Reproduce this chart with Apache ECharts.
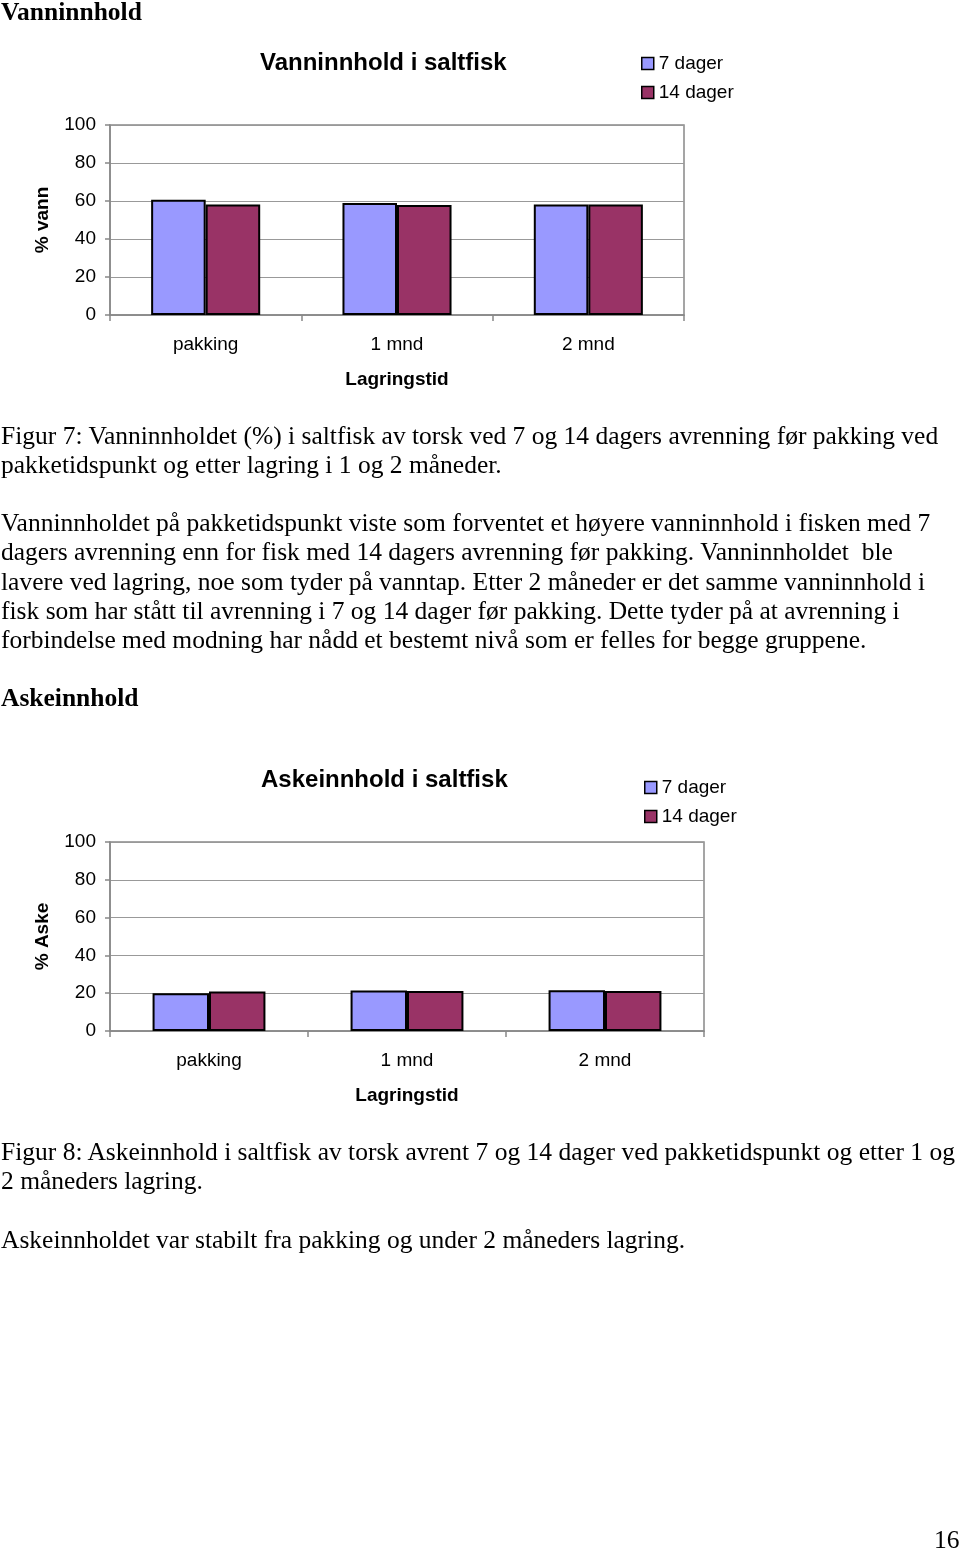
<!DOCTYPE html>
<html><head><meta charset="utf-8">
<script src="https://cdn.jsdelivr.net/npm/echarts@6/dist/echarts.min.js"></script>
<style>
html,body{margin:0;padding:0;background:#fff;}
#page{position:relative;width:960px;height:1550px;overflow:hidden;}
#chart{position:absolute;left:0;top:0;width:960px;height:1550px;}
.t{position:absolute;left:1px;font-family:"Liberation Serif","Times New Roman",serif;font-size:25.5px;line-height:29.3px;color:#000;white-space:nowrap;}
.h{font-weight:bold;font-size:25.5px;}
</style></head>
<body>
<div id="page">
<div id="chart"></div>
<div class="t h" style="top:-3px">Vanninnhold</div>
<div class="t" style="top:421px">Figur 7: Vanninnholdet (%) i saltfisk av torsk ved 7 og 14 dagers avrenning før pakking ved<br>pakketidspunkt og etter lagring i 1 og 2 måneder.</div>
<div class="t" style="top:508px">Vanninnholdet på pakketidspunkt viste som forventet et høyere vanninnhold i fisken med 7<br>dagers avrenning enn for fisk med 14 dagers avrenning før pakking. Vanninnholdet &nbsp;ble<br>lavere ved lagring, noe som tyder på vanntap. Etter 2 måneder er det samme vanninnhold i<br>fisk som har stått til avrenning i 7 og 14 dager før pakking. Dette tyder på at avrenning i<br>forbindelse med modning har nådd et bestemt nivå som er felles for begge gruppene.</div>
<div class="t h" style="top:683px">Askeinnhold</div>
<div class="t" style="top:1137px">Figur 8: Askeinnhold i saltfisk av torsk avrent 7 og 14 dager ved pakketidspunkt og etter 1 og<br>2 måneders lagring.</div>
<div class="t" style="top:1225px">Askeinnholdet var stabilt fra pakking og under 2 måneders lagring.</div>
<div class="t" style="top:1525px;left:934px">16</div>
</div>
<script>
var categories = ['pakking', '1 mnd', '2 mnd'];
var seriesNames = ['7 dager', '14 dager'];
var vann7 = [60.7, 58.9, 58.2];
var vann14 = [58.1, 57.9, 58.2];
var aske7 = [20.0, 21.4, 21.6];
var aske14 = [20.9, 21.1, 21.2];
var yTicks = [0, 20, 40, 60, 80, 100];

var FONT = '"Liberation Sans", Arial, sans-serif';
var colors = ['#9999FF', '#993366'];
var chart = echarts.init(document.getElementById('chart'), null, {renderer: 'canvas'});

function yAxis(gi, name) {
  return {
    gridIndex: gi, type: 'value', min: yTicks[0], max: yTicks[yTicks.length - 1], interval: 20,
    name: name, nameLocation: 'middle', nameGap: 58, nameRotate: 90,
    nameTextStyle: {fontFamily: FONT, fontSize: 19, fontWeight: 'bold', color: '#000'},
    axisLine: {show: true, lineStyle: {color: '#888', width: 1.5}},
    axisTick: {show: true, inside: false, length: 5, lineStyle: {color: '#888', width: 1.5}},
    axisLabel: {fontFamily: FONT, fontSize: 19, color: '#000', margin: 14},
    splitLine: {show: true, lineStyle: {color: '#999', width: 1}}
  };
}
function xAxis(gi) {
  return {
    gridIndex: gi, type: 'category', data: categories,
    name: 'Lagringstid', nameLocation: 'middle', nameGap: 55,
    nameTextStyle: {fontFamily: FONT, fontSize: 19, fontWeight: 'bold', color: '#000'},
    axisLine: {show: true, lineStyle: {color: '#888', width: 1.5}},
    axisTick: {show: true, alignWithLabel: false, length: 6, lineStyle: {color: '#888', width: 1.5}},
    axisLabel: {fontFamily: FONT, fontSize: 19, color: '#000', margin: 20},
    splitLine: {show: false}
  };
}
function bar(name, data, gi, ci) {
  return {
    name: name, type: 'bar', xAxisIndex: gi, yAxisIndex: gi, data: data,
    barGap: '0%', barCategoryGap: '43%',
    itemStyle: {color: colors[ci], borderColor: '#000', borderWidth: 2},
    emphasis: {disabled: true}, animation: false
  };
}
var legendCommon = {
  orient: 'vertical', itemWidth: 12, itemHeight: 12, itemGap: 10, icon: 'rect',
  textStyle: {fontFamily: FONT, fontSize: 19, color: '#000'},
  itemStyle: {borderColor: '#000', borderWidth: 1.5}
};

chart.setOption({
  animation: false,
  title: [
    {text: 'Vanninnhold i saltfisk', left: 255, top: 46,
     textStyle: {fontFamily: FONT, fontSize: 24, fontWeight: 'bold', color: '#000'}},
    {text: 'Askeinnhold i saltfisk', left: 256, top: 763,
     textStyle: {fontFamily: FONT, fontSize: 24, fontWeight: 'bold', color: '#000'}}
  ],
  legend: [
    Object.assign({}, legendCommon, {left: 636, top: 49, data: seriesNames.slice()}),
    Object.assign({}, legendCommon, {left: 639, top: 773, data: seriesNames.slice()})
  ],
  grid: [
    {left: 110, top: 125, width: 574, height: 190, show: true, borderColor: '#888', borderWidth: 1.5, backgroundColor: 'transparent'},
    {left: 110, top: 842, width: 594, height: 189, show: true, borderColor: '#888', borderWidth: 1.5, backgroundColor: 'transparent'}
  ],
  xAxis: [xAxis(0), xAxis(1)],
  yAxis: [yAxis(0, '% vann'), yAxis(1, '% Aske')],
  series: [
    bar(seriesNames[0], vann7, 0, 0),
    bar(seriesNames[1], vann14, 0, 1),
    bar(seriesNames[0], aske7, 1, 0),
    bar(seriesNames[1], aske14, 1, 1)
  ]
});
</script>
</body></html>
